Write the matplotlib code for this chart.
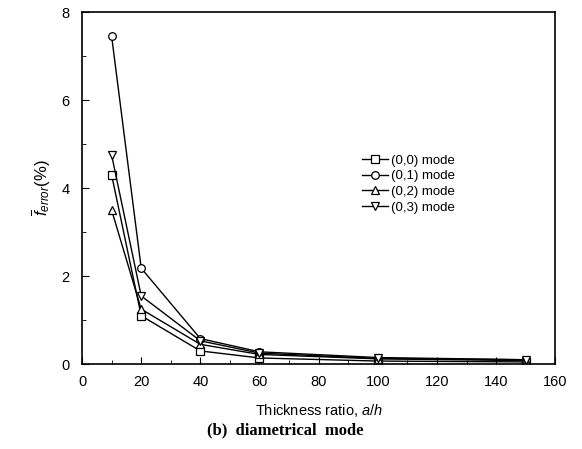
import matplotlib
matplotlib.use('Agg')
import matplotlib.pyplot as plt
from matplotlib.ticker import MultipleLocator

plt.rcParams['font.family'] = ['Liberation Sans', 'DejaVu Sans']
plt.rcParams['mathtext.fontset'] = 'custom'
plt.rcParams['mathtext.it'] = 'Liberation Sans:italic'
plt.rcParams['mathtext.rm'] = 'Liberation Sans'

# thickness ratio a/h
ratio = [10, 20, 40, 60, 100, 150]

mode00 = [4.3, 1.1, 0.3, 0.14, 0.07, 0.05]
mode01 = [7.45, 2.18, 0.58, 0.28, 0.15, 0.1]
mode02 = [3.5, 1.25, 0.45, 0.22, 0.12, 0.08]
mode03 = [4.75, 1.55, 0.53, 0.25, 0.13, 0.1]

labels = ['(0,0) mode', '(0,1) mode', '(0,2) mode', '(0,3) mode']
markers = ['s', 'o', '^', 'v']

fig = plt.figure(figsize=(5.82, 4.49), dpi=100)
ax = fig.add_axes([0.141, 0.189, 0.813, 0.784])

for y, lab, m in zip([mode00, mode01, mode02, mode03], labels, markers):
    ax.plot(ratio, y, color='black', lw=1.0, marker=m, markersize=5.5,
            markerfacecolor='white', markeredgecolor='black',
            markeredgewidth=0.9, label=lab)

ax.set_xlim(0, 160)
ax.set_ylim(0, 8)
ax.xaxis.set_major_locator(MultipleLocator(20))
ax.xaxis.set_minor_locator(MultipleLocator(10))
ax.yaxis.set_major_locator(MultipleLocator(2))
ax.yaxis.set_minor_locator(MultipleLocator(1))
ax.tick_params(which='both', direction='in', labelsize=10.5)
ax.tick_params(which='major', length=5)
ax.tick_params(which='minor', length=3)
ax.tick_params(axis='x', pad=8)
ax.tick_params(axis='y', pad=9)
for s in ax.spines.values():
    s.set_linewidth(1.2)

ax.set_xlabel('Thickness ratio, $a/h$', fontsize=10.5, labelpad=9)
ax.set_ylabel(r'$\overline{f}_{error}$(%)', fontsize=12, labelpad=6)

ax.legend(loc='upper left', bbox_to_anchor=(0.58, 0.61), frameon=False,
          fontsize=9.5, handlelength=2.0, handletextpad=0.2,
          labelspacing=0.25, borderaxespad=0)

fig.text(0.49, 0.042, '(b)  diametrical  mode', ha='center', va='center',
         fontsize=12, fontweight='bold', family='Liberation Serif')

plt.savefig('out.png', dpi=100)
